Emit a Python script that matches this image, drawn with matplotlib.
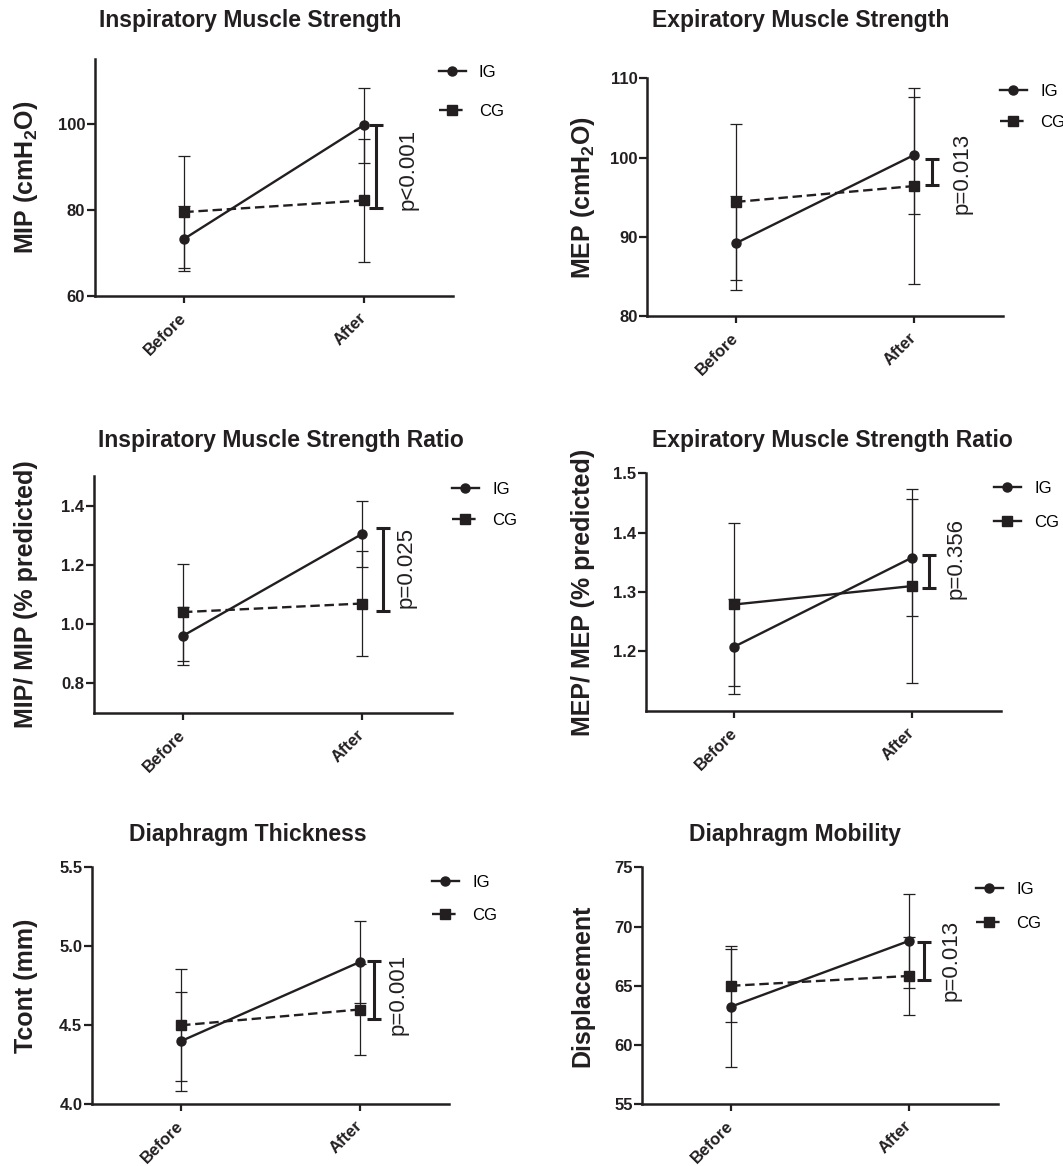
import matplotlib
matplotlib.use("Agg")
import matplotlib.pyplot as plt
import numpy as np
from matplotlib.ticker import FormatStrFormatter

plt.rcParams["font.family"] = ["Liberation Sans", "DejaVu Sans"]
plt.rcParams["mathtext.fontset"] = "custom"
plt.rcParams["mathtext.rm"] = "Liberation Sans:bold"
plt.rcParams["mathtext.bf"] = "Liberation Sans:bold"
plt.rcParams["mathtext.default"] = "rm"

W, H = 1063, 1166
INK = "#231f20"

# ---- data (mean and error bar half-width, Before / After) ----
phases = ["Before", "After"]

mip_ig = [73.3, 99.7]
mip_ig_err = [7.6, 8.7]
mip_cg = [79.5, 82.2]
mip_cg_err = [13.1, 14.2]
mip_bracket = [80.4, 99.7]
mip_p = "p<0.001"

mep_ig = [89.2, 100.3]
mep_ig_err = [5.9, 7.4]
mep_cg = [94.4, 96.4]
mep_cg_err = [9.8, 12.4]
mep_bracket = [96.5, 99.8]
mep_p = "p=0.013"

mip_ratio_ig = [0.96, 1.304]
mip_ratio_ig_err = [0.098, 0.11]
mip_ratio_cg = [1.04, 1.069]
mip_ratio_cg_err = [0.164, 0.178]
mip_ratio_bracket = [1.043, 1.324]
mip_ratio_p = "p=0.025"

mep_ratio_ig = [1.208, 1.358]
mep_ratio_ig_err = [0.08, 0.099]
mep_ratio_cg = [1.279, 1.31]
mep_ratio_cg_err = [0.137, 0.164]
mep_ratio_bracket = [1.306, 1.362]
mep_ratio_p = "p=0.356"

tcont_ig = [4.4, 4.9]
tcont_ig_err = [0.313, 0.26]
tcont_cg = [4.5, 4.6]
tcont_cg_err = [0.354, 0.288]
tcont_bracket = [4.538, 4.907]
tcont_p = "p=0.001"

disp_ig = [63.24, 68.78]
disp_ig_err = [5.1, 3.95]
disp_cg = [65.0, 65.83]
disp_cg_err = [3.07, 3.33]
disp_bracket = [65.49, 68.72]
disp_p = "p=0.013"

titles = ["Inspiratory Muscle Strength", "Expiratory Muscle Strength",
          "Inspiratory Muscle Strength Ratio", "Expiratory Muscle Strength Ratio",
          "Diaphragm Thickness", "Diaphragm Mobility"]
ylabels = ["MIP (cmH$_2$O)", "MEP (cmH$_2$O)",
           "MIP/ MIP (% predicted)", "MEP/ MEP (% predicted)",
           "Tcont (mm)", "Displacement"]
yticks = [[60, 80, 100], [80, 90, 100, 110],
          [0.8, 1.0, 1.2, 1.4], [1.2, 1.3, 1.4, 1.5],
          [4.0, 4.5, 5.0, 5.5], [55, 60, 65, 70, 75]]
ylims = [(60, 115), (80, 110), (0.7, 1.5), (1.1, 1.5), (4.0, 5.5), (55, 75)]

series = [
    (mip_ig, mip_ig_err, mip_cg, mip_cg_err, mip_bracket, mip_p),
    (mep_ig, mep_ig_err, mep_cg, mep_cg_err, mep_bracket, mep_p),
    (mip_ratio_ig, mip_ratio_ig_err, mip_ratio_cg, mip_ratio_cg_err, mip_ratio_bracket, mip_ratio_p),
    (mep_ratio_ig, mep_ratio_ig_err, mep_ratio_cg, mep_ratio_cg_err, mep_ratio_bracket, mep_ratio_p),
    (tcont_ig, tcont_ig_err, tcont_cg, tcont_cg_err, tcont_bracket, tcont_p),
    (disp_ig, disp_ig_err, disp_cg, disp_cg_err, disp_bracket, disp_p),
]

# ---- layout, in pixels of the final image ----
# axes box: left, top, right, bottom
boxes = [(94.6, 59.3, 453.3, 296), (647.3, 78.3, 1002.6, 316),
         (93.5, 476, 451.5, 712.7), (645.6, 473.3, 1000.9, 710.7),
         (91.8, 867.3, 448.8, 1104.3), (642.2, 867.3, 997.5, 1104.3)]
title_pos = [(250, 21), (801, 21), (281, 440), (832, 440), (248, 834), (795, 834)]
ylabel_x = [26.5, 583, 26.5, 583, 25.5, 582]
# legend: x of handle start, y of IG row, y of CG row
legend_pos = [(439, 73, 111), (1000, 92, 122), (452, 490, 520),
              (994, 489, 522), (432, 883, 915), (976, 890, 923)]
bracket_x = [1.067, 1.10, 1.12, 1.095, 1.08, 1.086]
ptext_pos = [(1.25, 89.3), (1.273, 98.0), (1.248, 1.19),
             (1.248, 1.357), (1.213, 4.698), (1.238, 67.12)]
cg_dashed = [True, True, True, False, True, True]


def fx(px):
    return px / W


def fy(py):
    return 1 - py / H


fig = plt.figure(figsize=(W / 100, H / 100), dpi=100)
x = np.arange(len(phases))

for i, (ig, ig_err, cg, cg_err, bracket, ptxt) in enumerate(series):
    l, t, r, b = boxes[i]
    ax = fig.add_axes([fx(l), fy(b), (r - l) / W, (b - t) / H])

    # error bars
    ax.errorbar(x, cg, yerr=cg_err, fmt="none", ecolor=INK, elinewidth=0.9,
                capsize=4.5, capthick=0.9, zorder=2)
    ax.errorbar(x, ig, yerr=ig_err, fmt="none", ecolor=INK, elinewidth=0.9,
                capsize=4.5, capthick=0.9, zorder=2)

    # mean lines
    (l_ig,) = ax.plot(x, ig, "-", marker="o", ms=6.5, color=INK, lw=1.7,
                      zorder=4, label="IG")
    ls = (0, (4, 2)) if cg_dashed[i] else "-"
    (l_cg,) = ax.plot(x, cg, linestyle=ls, marker="s", ms=7, color=INK,
                      lw=1.7, zorder=4, label="CG")

    # significance bracket
    lo, hi = bracket
    ax.errorbar([bracket_x[i]], [(lo + hi) / 2], yerr=[(hi - lo) / 2],
                fmt="none", ecolor=INK, elinewidth=2.2, capsize=5.2,
                capthick=2.2, zorder=3, clip_on=False)
    tx, ty = ptext_pos[i]
    ax.text(tx, ty, ptxt, rotation=90, ha="center", va="center",
            fontsize=16, color=INK)

    # axes styling
    ax.set_xlim(-0.5, 1.5)
    ax.set_ylim(*ylims[i])
    ax.set_yticks(yticks[i])
    if i in (2, 3, 4):
        ax.yaxis.set_major_formatter(FormatStrFormatter("%.1f"))
    ax.set_xticks(x)
    ax.set_xticklabels(phases, rotation=45, ha="right", va="center",
                       rotation_mode="anchor", fontweight="bold", fontsize=12)
    for lab in ax.get_yticklabels():
        lab.set_fontweight("bold")
    ax.tick_params(axis="y", length=5.8, width=1.6, labelsize=12, pad=1,
                   colors=INK)
    ax.tick_params(axis="x", length=5, width=1.6, pad=9, colors=INK)
    for side in ("top", "right"):
        ax.spines[side].set_visible(False)
    for side in ("left", "bottom"):
        ax.spines[side].set_linewidth(1.8)
        ax.spines[side].set_color(INK)

    ax.set_ylabel(ylabels[i], fontsize=18, fontweight="bold", color=INK)
    ax.yaxis.label.set_va("center")
    ax.yaxis.set_label_coords((ylabel_x[i] - l) / (r - l), 0.5)

    fig.text(fx(title_pos[i][0]), fy(title_pos[i][1]), titles[i],
             ha="center", va="center", fontsize=16.5, fontweight="bold",
             color=INK)

    lx, y1, y2 = legend_pos[i]
    spacing = (y2 - y1 - 14) / 16.7
    ax.legend(handles=[l_ig, l_cg], loc="center left",
              bbox_to_anchor=(fx(lx), fy((y1 + y2) / 2)),
              bbox_transform=fig.transFigure, frameon=False, fontsize=12,
              handlelength=1.6, handletextpad=0.8, labelspacing=spacing,
              borderpad=0, borderaxespad=0)

fig.savefig("out.png", dpi=100)
